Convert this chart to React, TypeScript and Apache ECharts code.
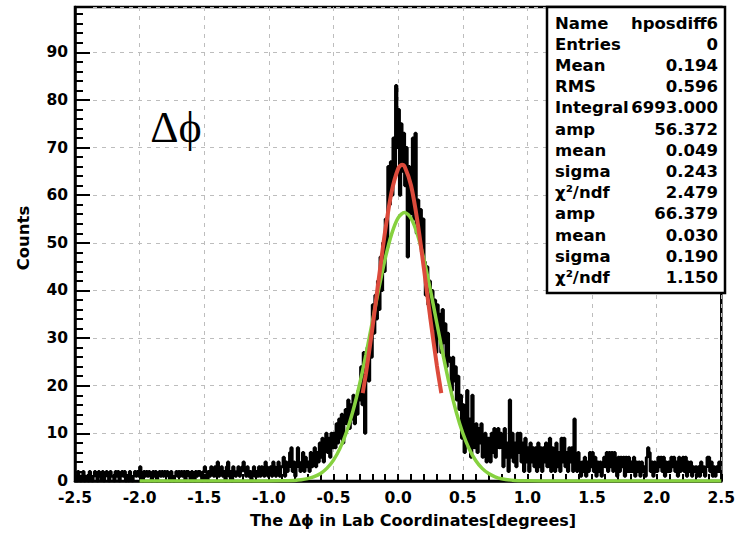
import React, { useEffect, useRef } from "react";
import * as echarts from "echarts";

// Histogram: 500 bins of width 0.01 from -2.5 to 2.5
const xMin = -2.5;
const xMax = 2.5;
const binWidth = 0.01;
const binCounts = [
  1,0,2,1,0,1,2,0,1,1,
  0,2,1,0,1,2,1,0,2,1,
  1,2,0,1,2,1,0,2,1,1,
  0,2,1,2,0,1,2,1,2,0,
  1,0,2,1,0,1,2,1,2,1,
  3,1,0,2,1,2,1,2,1,0,
  2,1,2,0,1,2,1,2,1,2,
  1,2,1,0,2,1,0,1,2,1,
  2,1,2,1,2,0,2,2,1,0,
  2,1,0,2,1,2,2,1,0,2,
  3,2,0,2,1,3,2,1,3,1,
  4,1,2,3,1,2,0,3,4,1,
  2,0,3,2,1,2,3,1,2,3,
  4,2,1,3,1,2,0,2,3,1,
  2,1,3,1,3,2,1,4,3,1,
  2,3,1,4,3,1,2,4,1,3,
  3,5,1,4,2,3,6,7,2,4,
  1,3,7,4,2,3,6,2,5,3,
  4,2,6,3,5,7,3,6,4,8,
  5,9,4,8,10,6,9,5,10,7,
  10,7,12,8,13,9,14,8,12,15,
  12,17,11,16,13,18,12,17,14,19,
  17,24,16,27,10,22,28,21,30,26,
  37,31,39,34,42,36,47,40,50,44,
  55,49,66,58,67,60,72,64,83,70,
  78,60,75,65,73,62,70,47,66,56,
  60,72,55,73,52,59,51,57,48,55,
  46,39,45,37,42,34,40,32,38,27,
  37,30,35,27,36,29,33,24,31,26,
  25,19,26,21,24,17,22,15,18,9,
  16,6,14,19,8,13,5,18,10,7,
  12,6,11,8,12,5,9,10,4,9,
  9,4,10,6,11,5,9,11,7,10,
  9,3,11,5,8,2,17,5,10,4,
  8,3,10,6,10,4,8,2,9,4,
  7,2,8,4,7,3,7,2,8,3,
  7,2,7,4,8,3,6,9,2,7,
  5,2,8,3,6,2,9,4,9,3,
  6,2,7,4,7,2,13,5,2,6,
  4,1,4,2,5,1,4,2,6,3,
  6,2,5,1,4,2,4,1,3,5,
  3,6,2,6,3,6,2,6,4,1,
  5,2,5,3,5,1,5,2,5,2,
  4,2,5,1,4,2,4,1,4,2,
  3,1,5,7,6,2,4,1,4,2,
  2,5,3,5,2,5,1,4,2,4,
  2,5,3,5,2,4,1,5,2,4,
  5,2,5,1,4,2,4,1,3,2,
  3,1,3,1,4,2,3,1,3,5,
  5,2,4,1,3,1,3,2,4,2,
];

// Fit curves
const greenFitX = [-2.0, -1.0, -0.9, -0.8, -0.75, -0.7, -0.65, -0.6, -0.55, -0.5, -0.45, -0.4, -0.35, -0.3, -0.25, -0.2, -0.15, -0.1, -0.05, 0, 0.05, 0.1, 0.15, 0.2, 0.25, 0.3, 0.35, 0.4, 0.45, 0.5, 0.55, 0.6, 0.65, 0.7, 0.75, 0.8, 0.9, 1.0, 1.1, 2.5];
const greenFitY = [0, 0.01, 0.03, 0.13, 0.25, 0.49, 0.9, 1.59, 2.7, 4.39, 6.85, 10.23, 14.64, 20.1, 26.44, 33.35, 40.31, 46.71, 51.88, 55.24, 56.37, 55.14, 51.7, 46.47, 40.04, 33.06, 26.18, 19.86, 14.45, 10.07, 6.73, 4.31, 2.65, 1.56, 0.88, 0.47, 0.12, 0.03, 0, 0];
const redFitX = [-0.274, -0.25, -0.2, -0.15, -0.1, -0.05, 0, 0.03, 0.05, 0.1, 0.15, 0.2, 0.25, 0.3, 0.334];
const redFitY = [18.45, 22.41, 31.9, 42.38, 52.53, 60.75, 65.55, 66.38, 66.01, 62.02, 54.38, 44.48, 33.95, 24.19, 18.45];

const statsNames = ["Name", "Entries", "Mean", "RMS", "Integral", "amp", "mean", "sigma", "χ²/ndf", "amp", "mean", "sigma", "χ²/ndf"];
const statsValues = ["hposdiff6", "0", "0.194", "0.596", "6993.000", "56.372", "0.049", "0.243", "2.479", "66.379", "0.030", "0.190", "1.150"];

const xTitle = "The Δϕ in Lab Coordinates[degrees]";
const yTitle = "Counts";
const plotLabel = "Δϕ";

const W = 738;
const H = 533;

export default function App() {
  const ref = useRef<HTMLDivElement>(null);
  useEffect(() => {
    if (!ref.current) return;
    const chart = echarts.init(ref.current, undefined, { renderer: "svg" });

    const histData: number[][] = binCounts.map((c, i) => [xMin + i * binWidth, c]);
    histData.push([xMax, binCounts[binCounts.length - 1]]);
    const greenData = greenFitX.map((x, i) => [x, greenFitY[i]]);
    const redData = redFitX.map((x, i) => [x, redFitY[i]]);

    const font = '"DejaVu Sans", sans-serif';
    const statsEls: any[] = [];
    const boxX = 547, boxY = 7, boxW = 178, boxH = 286, rowH = 21.2, row0 = 23;
    statsEls.push({
      type: "rect",
      shape: { x: boxX, y: boxY, width: boxW, height: boxH },
      style: { fill: "#fff", stroke: "#000", lineWidth: 2.5 },
      z: 100,
    });
    statsNames.forEach((n, i) => {
      statsEls.push({
        type: "text",
        x: 555,
        y: row0 + i * rowH,
        z: 101,
        style: { text: n, fill: "#000", font: `bold 16.5px ${font}`, textAlign: "left", textVerticalAlign: "middle" },
      });
      statsEls.push({
        type: "text",
        x: 718,
        y: row0 + i * rowH,
        z: 101,
        style: { text: statsValues[i], fill: "#000", font: `bold 16.5px ${font}`, textAlign: "right", textVerticalAlign: "middle" },
      });
    });

    const option: any = {
      animation: false,
      backgroundColor: "#fff",
      grid: { left: 75, right: 13, top: 7, bottom: 52, show: true, borderColor: "#000", borderWidth: 2.5, backgroundColor: "transparent" },
      xAxis: {
        type: "value",
        min: xMin,
        max: xMax,
        interval: 0.5,
        axisLine: { show: true, onZero: false, lineStyle: { color: "#000", width: 2.5 } },
        axisTick: { show: true, inside: true, length: 7, lineStyle: { color: "#000", width: 2 } },
        minorTick: { show: true, splitNumber: 5, length: 7, lineStyle: { color: "#000", width: 2 } },
        axisLabel: {
          color: "#000",
          fontFamily: font,
          fontWeight: "bold",
          fontSize: 15.5,
          margin: 9,
          formatter: (v: number) => v.toFixed(1),
        },
        splitLine: { show: true, lineStyle: { color: "#bdbdbd", type: [4, 5], width: 1 } },
      },
      yAxis: {
        type: "value",
        min: 0,
        max: 99.5,
        interval: 10,
        axisLine: { show: true, onZero: false, lineStyle: { color: "#000", width: 2.5 } },
        axisTick: { show: true, inside: true, length: 15, lineStyle: { color: "#000", width: 2 } },
        minorTick: { show: true, splitNumber: 5, length: 8, lineStyle: { color: "#000", width: 2 } },
        axisLabel: {
          color: "#000",
          fontFamily: font,
          fontWeight: "bold",
          fontSize: 15.5,
          margin: 7,
          showMaxLabel: false,
          formatter: (v: number) => (Math.abs(v % 10) < 1e-6 ? String(v) : ""),
        },
        splitLine: { show: true, lineStyle: { color: "#bdbdbd", type: [4, 5], width: 1 } },
      },
      series: [
        {
          type: "line",
          step: "end",
          data: histData,
          symbol: "none",
          lineStyle: { color: "#000", width: 3 },
          z: 2,
        },
        {
          type: "line",
          data: greenData,
          symbol: "none",
          smooth: 0.3,
          lineStyle: { color: "#86d13f", width: 3.5 },
          z: 3,
        },
        {
          type: "line",
          data: redData,
          symbol: "none",
          smooth: 0.3,
          lineStyle: { color: "#dc4a3b", width: 4 },
          z: 4,
        },
      ],
      graphic: [
        {
          type: "text",
          x: 176,
          y: 127,
          z: 50,
          style: { text: plotLabel, fill: "#000", font: '44px "Liberation Serif", "DejaVu Serif", serif', textAlign: "center", textVerticalAlign: "middle" },
        },
        {
          type: "text",
          x: 413,
          y: 520,
          z: 50,
          style: { text: xTitle, fill: "#000", font: `bold 16px ${font}`, textAlign: "center", textVerticalAlign: "middle" },
        },
        {
          type: "text",
          x: 23,
          y: 238,
          rotation: Math.PI / 2,
          z: 50,
          style: { text: yTitle, fill: "#000", font: `bold 16.5px ${font}`, textAlign: "center", textVerticalAlign: "middle" },
        },
        ...statsEls,
      ],
    };
    chart.setOption(option);
    return () => chart.dispose();
  }, []);

  return <div ref={ref} style={{ position: "absolute", left: 0, top: 0, width: W, height: H }} />;
}
